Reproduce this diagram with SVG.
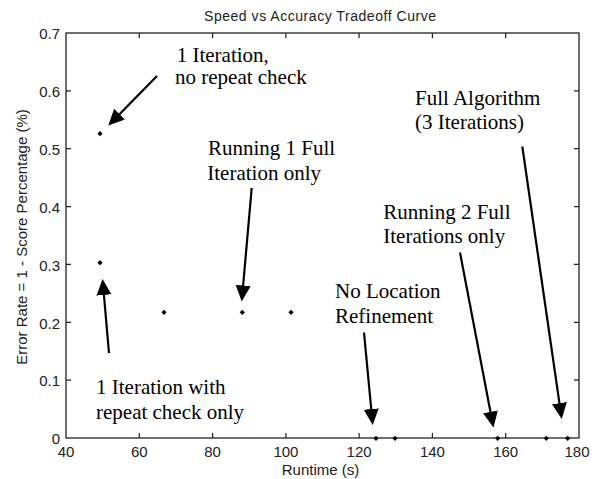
<svg xmlns="http://www.w3.org/2000/svg" width="596" height="479" viewBox="0 0 596 479">
<defs>
<style>
.ax{fill:none;stroke:#222;stroke-width:1.3}
.tk{stroke:#222;stroke-width:1.2}
.tl{font-family:"Liberation Sans",Arial,sans-serif;font-size:15px;fill:#222}
.ti{font-family:"Liberation Sans",Arial,sans-serif;font-size:14px;fill:#222}
.an{font-family:"Liberation Serif","Times New Roman",serif;font-size:21px;fill:#000}
.ar{stroke:#000;stroke-width:2.2;fill:none;marker-end:url(#ah)}
.pt{fill:#000}
</style>
<marker id="ah" markerUnits="userSpaceOnUse" markerWidth="17" markerHeight="16" refX="6" refY="7.5" orient="auto" viewBox="0 0 17 16">
<path d="M0,0 L16,7.5 L0,15 Z" fill="#000"/>
</marker>
<path id="dm" d="M0,-2.6 L2.6,0 L0,2.6 L-2.6,0 Z"/>
</defs>
<rect width="596" height="479" fill="#fff"/>
<g id="axes">
<rect class="ax" x="66" y="33" width="513" height="405"/>
<g class="tk">
<path d="M139.3,438v-5M212.6,438v-5M285.9,438v-5M359.1,438v-5M432.4,438v-5M505.7,438v-5M139.3,33v5M212.6,33v5M285.9,33v5M359.1,33v5M432.4,33v5M505.7,33v5"/>
<path d="M66,380.1h5M66,322.3h5M66,264.4h5M66,206.6h5M66,148.7h5M66,90.9h5M579,380.1h-5M579,322.3h-5M579,264.4h-5M579,206.6h-5M579,148.7h-5M579,90.9h-5"/>
</g>
<g class="tl" text-anchor="end">
<text x="60" y="444.3">0</text>
<text x="60" y="386.4">0.1</text>
<text x="60" y="328.6">0.2</text>
<text x="60" y="270.7">0.3</text>
<text x="60" y="212.9">0.4</text>
<text x="60" y="155">0.5</text>
<text x="60" y="97.2">0.6</text>
<text x="60" y="39.3">0.7</text>
</g>
<g class="tl" text-anchor="middle">
<text x="66" y="457">40</text>
<text x="139.3" y="457">60</text>
<text x="212.6" y="457">80</text>
<text x="285.9" y="457">100</text>
<text x="359.1" y="457">120</text>
<text x="432.4" y="457">140</text>
<text x="505.7" y="457">160</text>
<text x="577" y="457">180</text>
<text x="320.5" y="475">Runtime (s)</text>
<text transform="translate(27,237) rotate(-90)">Error Rate = 1 - Score Percentage (%)</text>
</g>
<text class="ti" x="320" y="21" text-anchor="middle" textLength="232">Speed vs Accuracy Tradeoff Curve</text>
</g>
<g id="points" class="pt">
<use href="#dm" x="100" y="133.7"/>
<use href="#dm" x="100" y="262.7"/>
<use href="#dm" x="164" y="312.3"/>
<use href="#dm" x="242.3" y="312.3"/>
<use href="#dm" x="291" y="312.3"/>
<use href="#dm" x="376" y="438.3"/>
<use href="#dm" x="395" y="438.3"/>
<use href="#dm" x="497.7" y="438.3"/>
<use href="#dm" x="546.3" y="438.3"/>
<use href="#dm" x="567.7" y="438.3"/>
</g>
<g id="connectors">
<path class="ar" d="M157,76 L115.3,118.4"/>
<path class="ar" d="M109,353 L103.4,289"/>
<path class="ar" d="M251.7,188 L242.6,291.5"/>
<path class="ar" d="M364,332.5 L371.8,415"/>
<path class="ar" d="M460,252.5 L491.6,417.7"/>
<path class="ar" d="M522.3,146.5 L560.3,409.1"/>
</g>
<g id="label-1iter-norepeat" class="an">
<text x="176.7" y="62">1 Iteration,</text>
<text x="175" y="84">no repeat check</text>
</g>
<g id="label-running1" class="an">
<text x="208" y="155">Running 1 Full</text>
<text x="207.3" y="180">Iteration only</text>
</g>
<g id="label-full" class="an">
<text x="415" y="105">Full Algorithm</text>
<text x="415" y="129.3">(3 Iterations)</text>
</g>
<g id="label-running2" class="an">
<text x="383.3" y="219">Running 2 Full</text>
<text x="383.3" y="243.3">Iterations only</text>
</g>
<g id="label-noloc" class="an">
<text x="335" y="298.3">No Location</text>
<text x="335" y="323.3">Refinement</text>
</g>
<g id="label-1iter-repeat" class="an">
<text x="96" y="394">1 Iteration with</text>
<text x="96" y="419">repeat check only</text>
</g>
</svg>
